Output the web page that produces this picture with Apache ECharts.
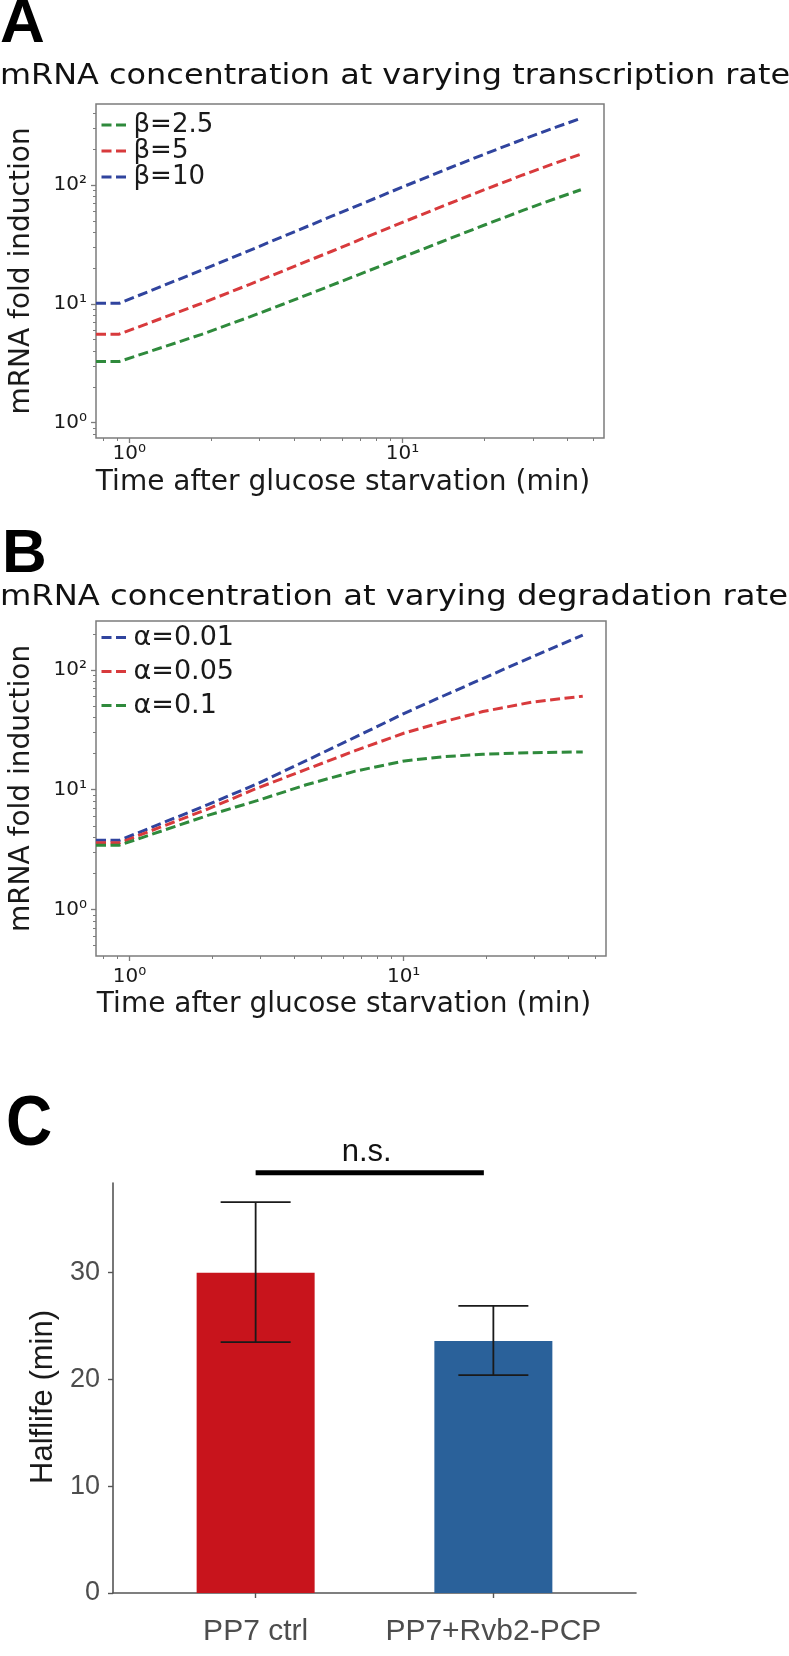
<!DOCTYPE html>
<html><head><meta charset="utf-8">
<script src="https://cdn.jsdelivr.net/npm/echarts@6/dist/echarts.min.js"></script>
<style>html,body{margin:0;padding:0;background:#fff}#c{width:789px;height:1656px}</style>
</head><body><div id="c"></div>
<script>
// ---------- Panel A data ----------
const timeA = [0.755, 0.918, 1.84, 2.76, 3.67, 5.51, 7.35, 10.1, 14.7, 20.2, 27.6, 36.7, 45];
const foldBeta25 = [3.27, 3.27, 5.54, 7.77, 9.97, 14.35, 18.6, 24.9, 35.0, 46.5, 61.1, 77.5, 91.2];
const foldBeta5  = [5.56, 5.56, 10.1, 14.6, 19.0, 27.7, 36.4, 48.9, 69.2, 92.3, 121.4, 154.3, 181.8];
const foldBeta10 = [10.1, 10.1, 19.2, 28.2, 37.0, 54.6, 71.8, 97.0, 137.6, 183.7, 242, 308, 363];
const namesA = ['β=2.5', 'β=5', 'β=10'];
// ---------- Panel B data ----------
const timeB = [0.755, 0.92, 1.93, 2.92, 4.41, 6.66, 10.06, 14.0, 19.45, 29.4, 45];
const foldAlpha001 = [3.78, 3.78, 7.5, 11.2, 17.5, 27.5, 43.5, 61, 85, 129, 196];
const foldAlpha005 = [3.6, 3.6, 6.9, 10.3, 14.8, 21.2, 29.8, 37, 45, 54, 60.5];
const foldAlpha01  = [3.44, 3.44, 6.1, 8.1, 11.0, 14.3, 17.4, 18.9, 19.8, 20.4, 20.7];
const namesB = ['α=0.01', 'α=0.05', 'α=0.1'];
// ---------- log axis ticks ----------
const majorTicksX = [1, 10];
const minorTicksX = [0.8, 0.9, 2, 3, 4, 5, 6, 7, 8, 9, 20, 30, 40, 50];
const majorTicksY = [1, 10, 100];
const minorTicksYA = [0.8, 0.9, 2, 3, 4, 5, 6, 7, 8, 9, 20, 30, 40, 50, 60, 70, 80, 90, 200, 300, 400];
const minorTicksYB = [0.5, 0.6, 0.7, 0.8, 0.9, 2, 3, 4, 5, 6, 7, 8, 9, 20, 30, 40, 50, 60, 70, 80, 90, 200];
const powLabels = ['10⁰', '10¹', '10²'];
// ---------- Panel C data ----------
const groups = ['PP7 ctrl', 'PP7+Rvb2-PCP'];
const halflife = [30, 23.6];
const halflifeLow = [23.5, 20.4];
const halflifeHigh = [36.6, 26.9];
const barColors = ['#c8141c', '#2a619a'];
const halflifeTicks = [0, 10, 20, 30];
const sigText = 'n.s.';
const sigSpan = [1, 1.96, 39.35];

const COL = { blue: '#30449e', red: '#d83a3c', green: '#2f8a3c' };
const FONT = 'DejaVu Sans';
const GRAY = '#7c7c7c';
const DASH = [10, 4.5];

function zip(xs, ys) { return xs.map((x, i) => [x, ys[i]]); }
function powFmt(v) { const k = Math.round(Math.log10(v)); return powLabels[k] || ''; }

function lineSeries(name, xs, ys, color, xi, yi) {
  return {
    type: 'line', name, xAxisIndex: xi, yAxisIndex: yi,
    data: zip(xs, ys), symbol: 'none', showSymbol: false, smooth: false,
    lineStyle: { color, width: 3, type: DASH },
    itemStyle: { color }, silent: true, animation: false
  };
}

function logX(grid, nameGap, labelMargin) {
  return [
    { type: 'log', gridIndex: grid, position: 'bottom', min: 0.755, max: 54.7, axisLine: { show: false }, splitLine: { show: false },
      axisTick: { customValues: majorTicksX, length: 5, lineStyle: { color: GRAY, width: 1.3 } },
      axisLabel: { customValues: majorTicksX, formatter: powFmt, fontFamily: FONT, fontSize: 20, color: '#1a1a1a', margin: labelMargin },
      name: 'Time after glucose starvation (min)', nameLocation: 'middle', nameGap: nameGap,
      nameTextStyle: { fontFamily: FONT, fontSize: 28, color: '#1a1a1a', padding: [0, 14, 0, 0] } },
    { type: 'log', gridIndex: grid, position: 'bottom', min: 0.755, max: 54.7, axisLine: { show: false }, splitLine: { show: false },
      axisTick: { customValues: minorTicksX, length: 3, lineStyle: { color: GRAY, width: 1 } },
      axisLabel: { show: false } }
  ];
}
function logY(grid, min, max, minor) {
  return [
    { type: 'log', gridIndex: grid, position: 'left', min, max, axisLine: { show: false }, splitLine: { show: false },
      axisTick: { customValues: majorTicksY, length: 5, lineStyle: { color: GRAY, width: 1.3 } },
      axisLabel: { customValues: majorTicksY, formatter: powFmt, fontFamily: FONT, fontSize: 20, color: '#1a1a1a', margin: 9 },
      name: 'mRNA fold induction', nameLocation: 'middle', nameGap: 60, nameRotate: 90,
      nameTextStyle: { fontFamily: FONT, fontSize: 28, color: '#1a1a1a' } },
    { type: 'log', gridIndex: grid, position: 'left', min, max, axisLine: { show: false }, splitLine: { show: false },
      axisTick: { customValues: minor, length: 3, lineStyle: { color: GRAY, width: 1 } },
      axisLabel: { show: false } }
  ];
}

const option = {
  animation: false,
  backgroundColor: '#ffffff',
  grid: [
    { left: 87, top: 104, width: 517, height: 334, show: true, borderColor: GRAY, borderWidth: 1.5 },
    { left: 87, top: 621, width: 519, height: 335, show: true, borderColor: GRAY, borderWidth: 1.5 },
    { left: 113, top: 1183, width: 523, height: 410 }
  ],
  xAxis: [
    ...logX(0, 31, 6),
    ...logX(1, 35, 11),
    { type: 'value', gridIndex: 2, position: 'bottom', min: 0.4, max: 2.6, splitLine: { show: false },
      axisLine: { show: true, lineStyle: { color: '#555', width: 1.6 } },
      axisTick: { customValues: [1, 2], length: 5, lineStyle: { color: '#555', width: 1.4 } },
      axisLabel: { customValues: [1, 2], formatter: v => groups[Math.round(v) - 1] || '',
        fontFamily: 'Liberation Sans', fontSize: 30, color: '#4d4d4d', margin: 24 } }
  ],
  yAxis: [
    ...logY(0, 0.744, 480, minorTicksYA),
    ...logY(1, 0.408, 257, minorTicksYB),
    { type: 'value', gridIndex: 2, position: 'left', min: 0, max: 38.4, splitLine: { show: false },
      axisLine: { show: true, lineStyle: { color: '#555', width: 1.6 } },
      axisTick: { show: true, customValues: halflifeTicks, length: 5, lineStyle: { color: '#555', width: 1.4 } },
      axisLabel: { customValues: halflifeTicks, fontFamily: 'Liberation Sans', fontSize: 27, color: '#4d4d4d', margin: 13 },
      name: 'Halflife (min)', nameLocation: 'middle', nameGap: 50, nameRotate: 90,
      nameTextStyle: { fontFamily: 'Liberation Sans', fontSize: 31, color: '#1a1a1a', padding: [0, 18, 0, 0] } }
  ],
  legend: [
    { data: namesA, orient: 'vertical', left: 100, top: 112, padding: 0, itemWidth: 27, itemHeight: 14, itemGap: 0,
      selectedMode: false, itemStyle: { opacity: 0 }, lineStyle: { width: 3, type: DASH },
      textStyle: { fontFamily: FONT, fontSize: 26, color: '#1a1a1a' } },
    { data: namesB, orient: 'vertical', left: 100, top: 624, padding: 0, itemWidth: 27, itemHeight: 14, itemGap: 7,
      selectedMode: false, itemStyle: { opacity: 0 }, lineStyle: { width: 3, type: DASH },
      textStyle: { fontFamily: FONT, fontSize: 27, color: '#1a1a1a' } }
  ],
  series: [
    lineSeries(namesA[0], timeA, foldBeta25, COL.green, 0, 0),
    lineSeries(namesA[1], timeA, foldBeta5, COL.red, 0, 0),
    lineSeries(namesA[2], timeA, foldBeta10, COL.blue, 0, 0),
    lineSeries(namesB[0], timeB, foldAlpha001, COL.blue, 2, 2),
    lineSeries(namesB[1], timeB, foldAlpha005, COL.red, 2, 2),
    lineSeries(namesB[2], timeB, foldAlpha01, COL.green, 2, 2),
    { type: 'bar', xAxisIndex: 4, yAxisIndex: 4, barWidth: 118, silent: true,
      data: halflife.map((v, i) => ({ value: [i + 1, v], itemStyle: { color: barColors[i] } })) },
    { type: 'custom', xAxisIndex: 4, yAxisIndex: 4, silent: true, z: 5,
      data: halflife.map((v, i) => [i + 1, halflifeLow[i], halflifeHigh[i]]),
      encode: { x: 0, y: [1, 2] },
      renderItem: (params, api) => {
        const lo = api.coord([api.value(0), api.value(1)]);
        const hi = api.coord([api.value(0), api.value(2)]);
        const st = { stroke: '#1a1a1a', lineWidth: 1.8 };
        return { type: 'group', children: [
          { type: 'line', shape: { x1: lo[0], y1: lo[1], x2: hi[0], y2: hi[1] }, style: st },
          { type: 'line', shape: { x1: lo[0] - 35, y1: lo[1], x2: lo[0] + 35, y2: lo[1] }, style: st },
          { type: 'line', shape: { x1: hi[0] - 35, y1: hi[1], x2: hi[0] + 35, y2: hi[1] }, style: st }
        ]};
      } },
    { type: 'custom', xAxisIndex: 4, yAxisIndex: 4, silent: true, clip: false, z: 5,
      data: [sigSpan], encode: { x: [0, 1], y: 2 },
      renderItem: (params, api) => {
        const a = api.coord([api.value(0), api.value(2)]);
        const b = api.coord([api.value(1), api.value(2)]);
        return { type: 'group', children: [
          { type: 'line', shape: { x1: a[0], y1: a[1], x2: b[0], y2: b[1] }, style: { stroke: '#000', lineWidth: 5 } },
          { type: 'text', x: (a[0] + b[0]) / 2 - 3, y: a[1] - 5,
            style: { text: sigText, font: '31px "Liberation Sans"', fill: '#111', align: 'center', verticalAlign: 'bottom' } }
        ]};
      } }
  ],
  graphic: [
    { type: 'text', x: 0, y: 25, style: { text: 'A', font: 'bold 62px "Liberation Sans"', fill: '#000', verticalAlign: 'middle' } },
    { type: 'text', x: 0, y: 76, scaleX: 1.1, style: { text: 'mRNA concentration at varying transcription rate', font: '29px "DejaVu Sans"', fill: '#111', verticalAlign: 'middle' } },
    { type: 'text', x: 2, y: 555, style: { text: 'B', font: 'bold 62px "Liberation Sans"', fill: '#000', verticalAlign: 'middle' } },
    { type: 'text', x: 0, y: 597, scaleX: 1.11, style: { text: 'mRNA concentration at varying degradation rate', font: '29px "DejaVu Sans"', fill: '#111', verticalAlign: 'middle' } },
    { type: 'text', x: 6, y: 1126, scaleY: 1.1, style: { text: 'C', font: 'bold 64px "Liberation Sans"', fill: '#000', verticalAlign: 'middle' } }
  ]
};

const chart = echarts.init(document.getElementById('c'), null, { renderer: 'canvas' });
chart.setOption(option);
</script></body></html>
